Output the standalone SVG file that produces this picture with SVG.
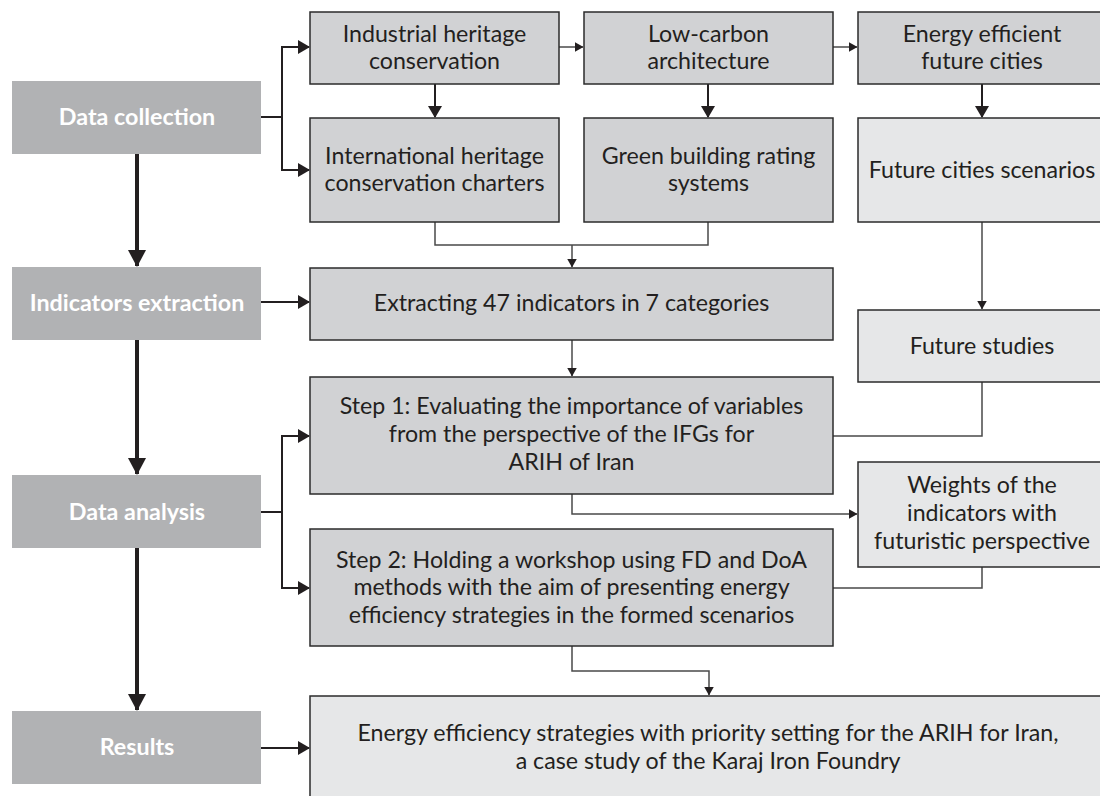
<svg xmlns="http://www.w3.org/2000/svg" width="1100" height="796" viewBox="0 0 1100 796">
  <style>
    .stage { fill: #b1b2b4; }
    .stage-t { font-family: Lato, "Liberation Sans", sans-serif; font-size: 23.3px; font-weight: bold; fill: #ffffff; text-anchor: middle; }
    .box { fill: #d1d2d4; stroke: #2b2b2b; stroke-width: 1.5; }
    .lbox { fill: #e6e7e8; stroke: #2b2b2b; stroke-width: 1.5; }
    .t { font-family: Lato, "Liberation Sans", sans-serif; font-size: 23.2px; fill: #231f20; text-anchor: middle; }
    .main { fill: none; stroke: #231f20; stroke-width: 4; }
    .branch { fill: none; stroke: #231f20; stroke-width: 2; }
    .thin { fill: none; stroke: #4a4a4a; stroke-width: 1.5; }
  </style>
  <defs>
    <marker id="headBig" markerUnits="userSpaceOnUse" markerWidth="18" markerHeight="18" viewBox="0 0 18 18" refX="16" refY="9" orient="auto">
      <path d="M0,0 L17,9 L0,18 Z" fill="#231f20"/>
    </marker>
    <marker id="headMid" markerUnits="userSpaceOnUse" markerWidth="12" markerHeight="14" viewBox="0 0 12 14" refX="11" refY="7" orient="auto">
      <path d="M0,0 L12,7 L0,14 Z" fill="#231f20"/>
    </marker>
    <marker id="headSmall" markerUnits="userSpaceOnUse" markerWidth="9" markerHeight="10" viewBox="0 0 9 10" refX="8.5" refY="5" orient="auto">
      <path d="M0,0 L9,5 L0,10 Z" fill="#231f20"/>
    </marker>
  </defs>

  <!-- connectors -->
  <g id="connectors">
    <!-- stage column -->
    <path class="main" d="M137,154 V266" marker-end="url(#headBig)"/>
    <path class="main" d="M137,340 V474" marker-end="url(#headBig)"/>
    <path class="main" d="M137,548 V710" marker-end="url(#headBig)"/>
    <!-- stage branches -->
    <path class="branch" d="M261,117 H282 V47 H309" marker-end="url(#headMid)"/>
    <path class="branch" d="M282,117 V170 H309" marker-end="url(#headMid)"/>
    <path class="branch" d="M261,302 H309" marker-end="url(#headMid)"/>
    <path class="branch" d="M261,512 H282 V436 H309" marker-end="url(#headMid)"/>
    <path class="branch" d="M282,512 V588 H309" marker-end="url(#headMid)"/>
    <path class="branch" d="M261,748 H309" marker-end="url(#headMid)"/>
    <!-- top row -->
    <path class="thin" d="M559,47 H583" marker-end="url(#headSmall)"/>
    <path class="thin" d="M833,47 H857" marker-end="url(#headSmall)"/>
    <path class="branch" d="M435,84 V117" marker-end="url(#headMid)"/>
    <path class="branch" d="M708,84 V117" marker-end="url(#headMid)"/>
    <path class="branch" d="M982,84 V117" marker-end="url(#headMid)"/>
    <!-- merge into extraction -->
    <path class="thin" d="M435,222 V245 H708 V222"/>
    <path class="thin" d="M572,245 V267" marker-end="url(#headSmall)"/>
    <!-- future column -->
    <path class="thin" d="M982,222 V309" marker-end="url(#headSmall)"/>
    <path class="thin" d="M982,382 V436 H833"/>
    <!-- analysis steps -->
    <path class="thin" d="M572,340 V376" marker-end="url(#headSmall)"/>
    <path class="thin" d="M572,494 V514 H857" marker-end="url(#headSmall)"/>
    <path class="thin" d="M982,567 V588 H833"/>
    <path class="thin" d="M572,646 V671 H709 V695" marker-end="url(#headSmall)"/>
  </g>

  <!-- stage column -->
  <g id="data-collection">
    <rect class="stage" x="12" y="81" width="249" height="73"/>
    <text class="stage-t" x="137" y="125">Data collection</text>
  </g>
  <g id="indicators-extraction">
    <rect class="stage" x="12" y="267" width="249" height="73"/>
    <text class="stage-t" x="137" y="311">Indicators extraction</text>
  </g>
  <g id="data-analysis">
    <rect class="stage" x="12" y="475" width="249" height="73"/>
    <text class="stage-t" x="137" y="520">Data analysis</text>
  </g>
  <g id="results">
    <rect class="stage" x="12" y="711" width="249" height="73"/>
    <text class="stage-t" x="137" y="755">Results</text>
  </g>

  <!-- sources -->
  <g id="industrial-heritage">
    <rect class="box" x="310" y="12" width="249" height="72"/>
    <text class="t" x="434.5" y="42">Industrial heritage</text>
    <text class="t" x="434.5" y="69">conservation</text>
  </g>
  <g id="low-carbon">
    <rect class="box" x="584" y="12" width="249" height="72"/>
    <text class="t" x="708.5" y="42">Low-carbon</text>
    <text class="t" x="708.5" y="69">architecture</text>
  </g>
  <g id="energy-efficient-cities">
    <rect class="box" x="858" y="12" width="250" height="72"/>
    <text class="t" x="982" y="42">Energy efficient</text>
    <text class="t" x="982" y="69">future cities</text>
  </g>
  <g id="heritage-charters">
    <rect class="box" x="310" y="118" width="249" height="104"/>
    <text class="t" x="434.5" y="164">International heritage</text>
    <text class="t" x="434.5" y="191">conservation charters</text>
  </g>
  <g id="green-rating">
    <rect class="box" x="584" y="118" width="249" height="104"/>
    <text class="t" x="708.5" y="164">Green building rating</text>
    <text class="t" x="708.5" y="191">systems</text>
  </g>
  <g id="future-scenarios">
    <rect class="lbox" x="858" y="118" width="250" height="104"/>
    <text class="t" x="982" y="178">Future cities scenarios</text>
  </g>

  <!-- extraction and analysis -->
  <g id="extracting-indicators">
    <rect class="box" x="310" y="268" width="523" height="72"/>
    <text class="t" x="571.5" y="311">Extracting 47 indicators in 7 categories</text>
  </g>
  <g id="future-studies">
    <rect class="lbox" x="858" y="310" width="250" height="72"/>
    <text class="t" x="982" y="354">Future studies</text>
  </g>
  <g id="step-1">
    <rect class="box" x="310" y="377" width="523" height="117"/>
    <text class="t" x="571.5" y="414">Step 1: Evaluating the importance of variables</text>
    <text class="t" x="571.5" y="442">from the perspective of the IFGs for</text>
    <text class="t" x="571.5" y="470">ARIH of Iran</text>
  </g>
  <g id="indicator-weights">
    <rect class="lbox" x="858" y="462" width="250" height="105"/>
    <text class="t" x="982" y="493">Weights of the</text>
    <text class="t" x="982" y="521">indicators with</text>
    <text class="t" x="982" y="549">futuristic perspective</text>
  </g>
  <g id="step-2">
    <rect class="box" x="310" y="529" width="523" height="117"/>
    <text class="t" x="571.5" y="568">Step 2: Holding a workshop using FD and DoA</text>
    <text class="t" x="571.5" y="595">methods with the aim of presenting energy</text>
    <text class="t" x="571.5" y="623">efficiency strategies in the formed scenarios</text>
  </g>
  <g id="strategies">
    <rect class="lbox" x="310" y="696" width="800" height="110"/>
    <text class="t" x="708" y="741">Energy efficiency strategies with priority setting for the ARIH for Iran,</text>
    <text class="t" x="708" y="769">a case study of the Karaj Iron Foundry</text>
  </g>
</svg>
